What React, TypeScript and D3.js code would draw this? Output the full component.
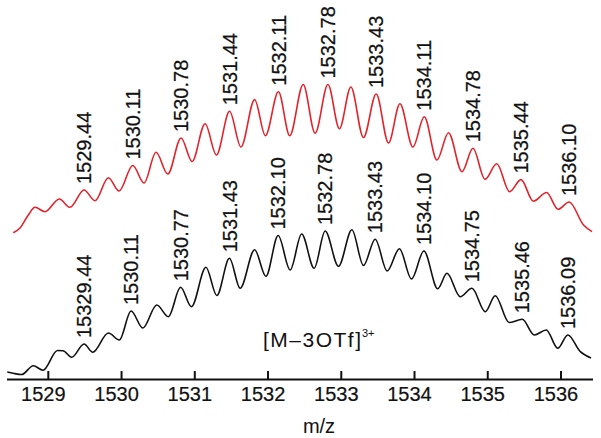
import React from 'react';
import * as d3 from 'd3';

const W = 601;
const H = 438;

// x axis
const xDomain: [number, number] = [1528.436, 1536.437];
const xTicks = [1529, 1530, 1531, 1532, 1533, 1534, 1535, 1536];
const xTitle = 'm/z';

// simulated isotope pattern (red): [m/z, intensity] at peaks and valleys
const redTrace: [number, number][] = [
  [1528.522, 147.3], [1528.613, 152], [1528.727, 165], [1528.818, 172.7], [1528.955, 168.3],
  [1529.15, 181], [1529.296, 172.7], [1529.488, 190], [1529.638, 179.3], [1529.82, 202.3],
  [1529.966, 189], [1530.153, 214.5], [1530.307, 197], [1530.471, 227.7], [1530.631, 206],
  [1530.813, 242], [1530.963, 218.5], [1531.141, 256.3], [1531.295, 225], [1531.475, 268.7],
  [1531.63, 233], [1531.817, 280.4], [1531.964, 244.2], [1532.142, 288.3], [1532.296, 244.3],
  [1532.48, 295.5], [1532.643, 246.7], [1532.818, 295.5], [1532.975, 251.3], [1533.131, 293],
  [1533.303, 242.5], [1533.477, 286], [1533.645, 237], [1533.801, 276.3], [1533.978, 233],
  [1534.133, 263.3], [1534.306, 220], [1534.464, 247.3], [1534.648, 208.3], [1534.798, 231.7],
  [1534.962, 200.7], [1535.123, 216.2], [1535.298, 188.3], [1535.454, 200.4], [1535.622, 178.8],
  [1535.803, 187.5], [1535.96, 170.7], [1536.111, 178], [1536.308, 155], [1536.424, 148.3],
];

// experimental spectrum (black)
const blackTrace: [number, number][] = [
  [1528.44, 8], [1528.522, 6.7], [1528.637, 5.5], [1528.795, 14.3], [1528.928, 9.7],
  [1529.126, 29.5], [1529.201, 29.3], [1529.32, 22.7], [1529.488, 36], [1529.607, 27.8],
  [1529.82, 47], [1529.97, 40], [1530.13, 69], [1530.29, 52], [1530.481, 75],
  [1530.639, 63.3], [1530.806, 92.7], [1530.954, 73.3], [1531.152, 112.7], [1531.301, 84.5],
  [1531.473, 121.7], [1531.619, 91.7], [1531.817, 130.3], [1531.971, 103.7], [1532.138, 144.5],
  [1532.302, 110], [1532.459, 146], [1532.63, 111.7], [1532.78, 149], [1532.962, 113.7],
  [1533.145, 150.3], [1533.303, 114.5], [1533.463, 140.8], [1533.627, 109], [1533.794, 131.3],
  [1533.959, 101], [1534.128, 129], [1534.317, 91.2], [1534.443, 106.7], [1534.624, 83.3],
  [1534.784, 91.7], [1534.966, 68.3], [1535.102, 84.3], [1535.291, 57.5], [1535.471, 60.7],
  [1535.635, 45], [1535.799, 50], [1535.956, 31.7], [1536.093, 45], [1536.264, 28.3],
  [1536.41, 22],
];

const redLabels = ['1529.44', '1530.11', '1530.78', '1531.44', '1532.11', '1532.78', '1533.43', '1534.11', '1534.78', '1535.44', '1536.10'];
const redLabelMz = [1529.488, 1530.153, 1530.813, 1531.475, 1532.142, 1532.818, 1533.477, 1534.133, 1534.798, 1535.454, 1536.111];

const blackLabels = ['15329.44', '1530.11', '1530.77', '1531.43', '1532.10', '1532.78', '1533.43', '1534.10', '1534.75', '1535.46', '1536.09'];
const blackLabelMz = [1529.488, 1530.13, 1530.806, 1531.473, 1532.138, 1532.78, 1533.463, 1534.128, 1534.784, 1535.471, 1536.093];

const ionLabel = '[M\u20133OTf]';
const ionCharge = '3+';

const FONT = '"Liberation Sans", Arial, Helvetica, sans-serif';

export default function App() {
  const x = d3.scaleLinear().domain(xDomain).range([7, 593]);
  const y = d3.scaleLinear().domain([0, 380]).range([380, 0]);
  const axisY = 379.5;

  const line = d3
    .line<[number, number]>()
    .x((d) => x(d[0]))
    .y((d) => y(d[1]))
    .curve(d3.curveMonotoneX);

  const peakAt = (trace: [number, number][], mz: number) => {
    let best = trace[0];
    for (const p of trace) if (Math.abs(p[0] - mz) < Math.abs(best[0] - mz)) best = p;
    return best;
  };

  const renderLabels = (labels: string[], mzs: number[], trace: [number, number][], key: string) =>
    labels.map((t, i) => {
      const p = peakAt(trace, mzs[i]);
      const px = x(p[0]);
      const py = y(p[1]) - 6;
      return (
        <text
          key={key + i}
          transform={`translate(${px},${py}) rotate(-90)`}
          dy="0.36em"
          fontSize={20}
          fill="#111"
          stroke="#111"
          strokeWidth={0.25}
        >
          {t}
        </text>
      );
    });

  return (
    <svg
      width={W}
      height={H}
      style={{ position: 'absolute', left: 0, top: 0, background: '#fff' }}
      fontFamily={FONT}
    >
      <rect width={W} height={H} fill="#fff" />
      <path d={line(redTrace) || ''} fill="none" stroke="#e3232b" strokeWidth={1.6} />
      <path d={line(blackTrace) || ''} fill="none" stroke="#111" strokeWidth={1.6} />
      {renderLabels(redLabels, redLabelMz, redTrace, 'r')}
      {renderLabels(blackLabels, blackLabelMz, blackTrace, 'b')}
      <text x={263} y={347} fontSize={21} fill="#111" textLength={98} lengthAdjust="spacing">
        {ionLabel}
      </text>
      <text x={362} y={337} fontSize={11} fill="#111">
        {ionCharge}
      </text>
      <line x1={x.range()[0]} x2={x.range()[1]} y1={axisY} y2={axisY} stroke="#111" strokeWidth={2} />
      {xTicks.map((t) => (
        <g key={t}>
          <line x1={x(t)} x2={x(t)} y1={axisY} y2={axisY - 8.5} stroke="#111" strokeWidth={2} />
          <text
            x={x(t) - 5}
            y={400.5}
            textAnchor="middle"
            fontSize={20}
            fill="#111"
            stroke="#111"
            strokeWidth={0.2}
          >
            {t}
          </text>
        </g>
      ))}
      <text x={319} y={433} textAnchor="middle" fontSize={20} fill="#111">
        {xTitle}
      </text>
    </svg>
  );
}
